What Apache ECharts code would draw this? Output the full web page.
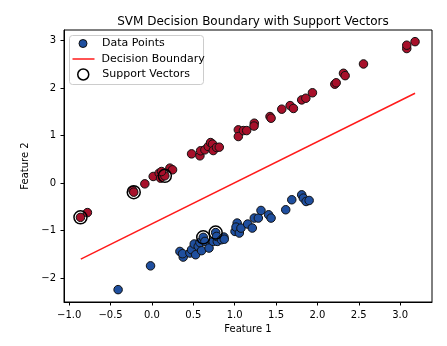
<!DOCTYPE html>
<html>
<head>
<meta charset="utf-8">
<script src="https://cdn.jsdelivr.net/npm/echarts@6/dist/echarts.min.js"></script>
<style>html,body{margin:0;padding:0;background:#fff}#c{width:447px;height:346px}</style>
</head>
<body>
<div id="c"></div>
<script>
const classUpper = [[-0.864,-0.72],[-0.78,-0.62],[-0.23,-0.155],[-0.22,-0.19],[-0.086,-0.015],[0.015,0.14],[0.087,0.21],[0.104,0.105],[0.156,0.153],[0.116,0.244],[0.217,0.315],[0.249,0.28],[0.479,0.615],[0.58,0.574],[0.588,0.68],[0.64,0.70],[0.68,0.77],[0.709,0.853],[0.733,0.82],[0.741,0.685],[0.78,0.75],[0.814,0.756],[1.044,1.12],[1.044,0.98],[1.105,1.105],[1.145,1.105],[1.237,1.26],[1.234,1.20],[1.427,1.40],[1.44,1.365],[1.569,1.555],[1.67,1.63],[1.71,1.57],[1.81,1.75],[1.86,1.785],[1.94,1.90],[2.21,2.08],[2.227,2.11],[2.315,2.31],[2.335,2.26],[2.557,2.506],[3.08,2.83],[3.08,2.90],[3.18,2.975]];
const classLower = [[-0.409,-2.24],[-0.017,-1.74],[0.338,-1.437],[0.378,-1.555],[0.37,-1.485],[0.459,-1.47],[0.479,-1.40],[0.528,-1.506],[0.511,-1.28],[0.559,-1.33],[0.60,-1.42],[0.58,-1.25],[0.62,-1.14],[0.64,-1.226],[0.69,-1.366],[0.741,-1.226],[0.77,-1.04],[0.79,-1.226],[0.782,-1.12],[0.84,-1.19],[0.87,-1.135],[0.874,-1.18],[1.004,-1.016],[1.03,-0.84],[1.016,-0.925],[1.056,-1.05],[1.076,-0.946],[1.157,-0.861],[1.213,-0.945],[1.237,-0.735],[1.286,-0.735],[1.318,-0.575],[1.41,-0.666],[1.44,-0.735],[1.617,-0.56],[1.69,-0.35],[1.81,-0.246],[1.83,-0.315],[1.863,-0.386],[1.90,-0.365]];
const supportVectors = [[-0.864,-0.72],[-0.22,-0.19],[0.156,0.153],[0.62,-1.14],[0.77,-1.04]];
const boundary = [[-0.86,-1.60],[3.18,1.89]];
const xTicks = [-1.0,-0.5,0.0,0.5,1.0,1.5,2.0,2.5,3.0];
const yTicks = [-2,-1,0,1,2,3];

const RED = '#a7102a', BLUE = '#1f4f9f', LINE = '#ff1a1a';
const FONT = 'DejaVu Sans';
const minus = s => String(s).replace('-', '\u2212');

const chart = echarts.init(document.getElementById('c'), null, {renderer:'canvas'});
const legendText = p => ({fontFamily: FONT, fontSize: 11, color: '#000', padding:[0,0,0,p], lineHeight: 14});
chart.setOption({
  animation: false,
  backgroundColor: '#fff',
  title: {text: 'SVM Decision Boundary with Support Vectors', left: 248, top: 11, textAlign: 'center',
    textStyle: {fontFamily: FONT, fontSize: 12, fontWeight: 'normal', color: '#000'}},
  grid: {left: 64, right: 15, top: 30, bottom: 44, show: true, borderColor: '#000', borderWidth: 1, backgroundColor: 'transparent'},
  graphic: [{type: 'rect', shape: {x: 69.5, y: 35.5, width: 134, height: 49, r: 3}, z: 90,
    style: {fill: 'rgba(255,255,255,0.8)', stroke: '#cccccc', lineWidth: 1}}],
  legend: [
    {data: [{name: 'Data Points', icon: 'circle', itemStyle: {color: BLUE, borderColor: '#111', borderWidth: 1, opacity: 1}}],
     left: 78.5, top: 36.5, padding: 0, itemWidth: 22, itemHeight: 8, textStyle: legendText(3), z: 100, selectedMode: false},
    {data: [{name: 'Decision Boundary', icon: 'path://M0,0H22V1.5H0Z', itemStyle: {color: LINE}}],
     left: 72.5, top: 52, padding: 0, itemWidth: 22, itemHeight: 8, textStyle: legendText(2), z: 100, selectedMode: false},
    {data: [{name: 'Support Vectors', icon: 'circle', itemStyle: {color: 'rgba(0,0,0,0)', borderColor: '#000', borderWidth: 1.5}}],
     left: 77, top: 67.5, padding: 0, itemWidth: 22, itemHeight: 11, textStyle: legendText(3), z: 100, selectedMode: false}
  ],
  xAxis: {type: 'value', min: -1.063, max: 3.385,
    axisLine: {show: true, onZero: false, lineStyle: {color: '#000', width: 1}}, splitLine: {show: false},
    axisTick: {show: true, inside: false, length: 3.5, lineStyle: {color: '#000', width: 1}, customValues: xTicks},
    axisLabel: {customValues: xTicks, formatter: v => minus(v.toFixed(1)), fontFamily: FONT, fontSize: 10, color: '#000', margin: 8},
    name: 'Feature 1', nameLocation: 'middle', nameGap: 21,
    nameTextStyle: {fontFamily: FONT, fontSize: 10, color: '#000'}},
  yAxis: {type: 'value', min: -2.50, max: 3.22,
    axisLine: {show: true, onZero: false, lineStyle: {color: '#000', width: 1}}, splitLine: {show: false},
    axisTick: {show: true, inside: false, length: 3.5, lineStyle: {color: '#000', width: 1}, customValues: yTicks},
    axisLabel: {customValues: yTicks, formatter: v => minus(String(Math.round(v))), fontFamily: FONT, fontSize: 10, color: '#000', margin: 8},
    name: 'Feature 2', nameLocation: 'middle', nameGap: 23, nameRotate: 90,
    nameTextStyle: {fontFamily: FONT, fontSize: 10, color: '#000'}},
  series: [
    {name: 'Data Points', type: 'scatter', data: classLower, symbolSize: 8.5, z: 2,
     itemStyle: {color: BLUE, borderColor: '#111', borderWidth: 1, opacity: 1}},
    {name: 'Data Points', type: 'scatter', data: classUpper, symbolSize: 8.5, z: 2,
     itemStyle: {color: RED, borderColor: '#111', borderWidth: 1, opacity: 1}},
    {name: 'Decision Boundary', type: 'line', data: boundary, showSymbol: false, symbol: 'none', z: 3,
     lineStyle: {color: LINE, width: 1.5}, itemStyle: {color: LINE}},
    {name: 'Support Vectors', type: 'scatter', data: supportVectors, symbolSize: 13, z: 4,
     itemStyle: {color: 'rgba(0,0,0,0)', borderColor: '#000', borderWidth: 1.5, opacity: 1}}
  ]
});
</script>
</body>
</html>
